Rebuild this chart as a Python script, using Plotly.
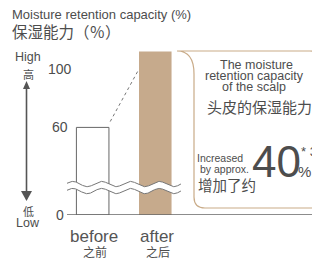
import numpy as np
import plotly.graph_objects as go

# ---- data ----
categories = ["before", "after"]
categories_zh = ["之前", "之后"]
values = [60, 112]
tick_values = [0, 60, 100]
tick_labels = ["0", "60", "100"]
increase_pct = 40

# ---- layout helpers (page has an 8px body margin) ----
OFF = 8
W, H = 320 - OFF, 259 - OFF
ML, MR, MT, MB = 60 - OFF, 0, 40 - OFF, 44
PW = W - ML - MR
PH = H - MT - MB


def px(x):
    return (x - OFF - ML) / PW


def py(y):
    return (H - MB - (y - OFF)) / PH


TAN = "#c6aa8c"
TXT = "#4d4d4d"
EN = "Liberation Sans, Arial, sans-serif"
ZH = "Noto Sans CJK SC, sans-serif"

fig = go.Figure()
xpos = [0, 1]
fig.add_bar(x=[xpos[0]], y=[values[0]], width=0.52,
            marker=dict(color="white", line=dict(color="#666", width=1)),
            hoverinfo="skip")
fig.add_bar(x=[xpos[1]], y=[values[1]], width=0.52,
            marker=dict(color=TAN, line=dict(width=0)), hoverinfo="skip")

# axis-break waves (decoration)
xs = np.linspace(-0.41, 1.41, 300)
upper = 21.2 + 1.8 * np.sin(2 * np.pi * (xs + 0.41) / 0.46 + 0.3)
lower = upper - 4.8
fig.add_scatter(x=xs, y=upper, mode="lines", line=dict(color="#777", width=1),
                hoverinfo="skip")
fig.add_scatter(x=xs, y=lower, mode="lines", line=dict(color="#777", width=1),
                fill="tonexty", fillcolor="white", hoverinfo="skip")

shapes = []
# baseline
shapes.append(dict(type="line", xref="paper", yref="y", x0=px(67), x1=px(320),
                   y0=0, y1=0, line=dict(color="#666", width=1.5)))
# dashed connector
shapes.append(dict(type="line", xref="x", yref="y", x0=0.28, y0=64, x1=0.74, y1=100,
                   line=dict(color="#777", width=1, dash="3px,3px")))

# rounded box
bp = (f"M {px(177)},{py(51)} L {px(310)},{py(51)} Q {px(319)},{py(51)} {px(319)},{py(60)} "
      f"L {px(319)},{py(199)} Q {px(319)},{py(208)} {px(310)},{py(208)} "
      f"L {px(205)},{py(208)} Q {px(194)},{py(208)} {px(194)},{py(197)} "
      f"L {px(194)},{py(74)} Q {px(194)},{py(51)} {px(177)},{py(51)}")
shapes.append(dict(type="path", xref="paper", yref="paper", path=bp,
                   line=dict(color="#c9ab88", width=1.2)))
# high/low arrow
shapes.append(dict(type="line", xref="paper", yref="paper", x0=px(26.5), x1=px(26.5),
                   y0=py(88), y1=py(192), line=dict(color="#555", width=1.6)))
shapes.append(dict(type="path", xref="paper", yref="paper",
                   path=f"M {px(26.5)},{py(81)} L {px(23)},{py(89)} L {px(30)},{py(89)} Z",
                   fillcolor="#555", line=dict(width=0)))
shapes.append(dict(type="path", xref="paper", yref="paper",
                   path=f"M {px(26.5)},{py(201)} L {px(21)},{py(191)} L {px(32)},{py(191)} Z",
                   fillcolor="#555", line=dict(width=0)))

ann = []


def text(t, x, y, size, family=EN, anchor="center", color=TXT):
    ann.append(dict(text=t, xref="paper", yref="paper", x=px(x), y=py(y),
                    xanchor=anchor, yanchor="middle", showarrow=False,
                    font=dict(family=family, size=size, color=color)))


text("Moisture retention capacity (%)", 10, 14, 13, anchor="left")
text("保湿能力（％）", 10, 31, 15.5, ZH, anchor="left")
text("High", 28, 57, 12.5)
text("高", 28, 74, 11, ZH)
text("低", 28, 211, 11, ZH)
text("Low", 28, 223, 12.5)

for v, lab in zip(tick_values, tick_labels):
    ann.append(dict(text=lab, xref="paper", yref="y", x=px(59.5), y=v,
                    xanchor="center", yanchor="middle", showarrow=False,
                    font=dict(family=EN, size=14, color=TXT)))

for xv, en, zh in zip(xpos, categories, categories_zh):
    ann.append(dict(text=en, xref="x", yref="paper", x=xv + 0.02, y=py(236),
                    xanchor="center", yanchor="middle", showarrow=False,
                    font=dict(family=EN, size=17, color="#555")))
    ann.append(dict(text=zh, xref="x", yref="paper", x=xv + 0.04, y=py(251),
                    xanchor="center", yanchor="middle", showarrow=False,
                    font=dict(family=ZH, size=12, color=TXT)))

text("The moisture", 256, 65, 12.5)
text("retention capacity", 254, 76, 12.5)
text("of the scalp", 254, 87, 12.5)
text("头皮的保湿能力", 259, 106, 15, ZH)
text("Increased", 220, 158, 10.5)
text("by approx.", 224, 169, 10.5)
text("增加了约", 227, 184, 14.5, ZH)
text(str(increase_pct), 276, 161, 44, "Liberation Sans Narrow, Arial Narrow, Liberation Sans, Arial")
text("* 3", 299, 151, 13, anchor="left")
text("%", 304, 171, 15)

fig.update_layout(
    width=W, height=H,
    margin=dict(l=ML, r=MR, t=MT, b=MB),
    paper_bgcolor="white", plot_bgcolor="white",
    barmode="overlay", showlegend=False,
    xaxis=dict(range=[-0.522, -0.522 + PW / 62.6], visible=False, fixedrange=True),
    yaxis=dict(range=[0, PH / 1.46], visible=False, fixedrange=True),
    shapes=shapes, annotations=ann,
)
fig.write_html("out.html", config={"displayModeBar": False})
